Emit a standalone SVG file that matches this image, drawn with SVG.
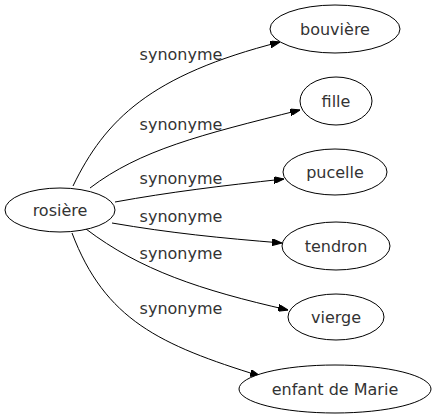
<svg xmlns="http://www.w3.org/2000/svg" width="437" height="419" viewBox="0 0 437 419">
<defs>
<marker id="ah" markerWidth="10" markerHeight="7" refX="10" refY="3.5" orient="auto" markerUnits="userSpaceOnUse">
<path d="M0,0 L10,3.5 L0,7 Z" fill="#000" stroke="#000"/>
</marker>
<style>
.n ellipse{fill:#fff;stroke:#000;stroke-width:1}
text{font-family:"DejaVu Sans","Liberation Sans",sans-serif;font-size:16px;fill:#333;text-anchor:middle}
.e path{fill:none;stroke:#000;stroke-width:1;marker-end:url(#ah)}
</style>
</defs>
<rect width="437" height="419" fill="#fff"/>
<g class="e" id="edges">
<path d="M73,186 C105,120 150,75 280,42"/>
<path d="M90,188 C140,150 200,135 300,110"/>
<path d="M115,202 C170,192 220,186 284,179"/>
<path d="M112,223 C170,233 220,238 282,243"/>
<path d="M86,229 C140,270 200,290 288,310"/>
<path d="M72,233 C105,320 160,345 260,376"/>
<text x="181" y="60">synonyme</text>
<text x="181" y="130">synonyme</text>
<text x="181" y="184">synonyme</text>
<text x="181" y="222">synonyme</text>
<text x="181" y="259">synonyme</text>
<text x="181" y="314">synonyme</text>
</g>
<g class="n" id="rosiere"><ellipse cx="60" cy="210" rx="55" ry="22"/><text x="60" y="216">rosière</text></g>
<g class="n" id="bouviere"><ellipse cx="335" cy="29" rx="65" ry="24"/><text x="335" y="35">bouvière</text></g>
<g class="n" id="fille"><ellipse cx="336" cy="101" rx="36" ry="24"/><text x="336" y="107">fille</text></g>
<g class="n" id="pucelle"><ellipse cx="335" cy="172" rx="52" ry="23"/><text x="335" y="178">pucelle</text></g>
<g class="n" id="tendron"><ellipse cx="336" cy="246" rx="54" ry="24"/><text x="336" y="252">tendron</text></g>
<g class="n" id="vierge"><ellipse cx="336" cy="317" rx="48" ry="23"/><text x="336" y="323">vierge</text></g>
<g class="n" id="enfant"><ellipse cx="335" cy="389" rx="96" ry="24"/><text x="335" y="395">enfant de Marie</text></g>
</svg>
